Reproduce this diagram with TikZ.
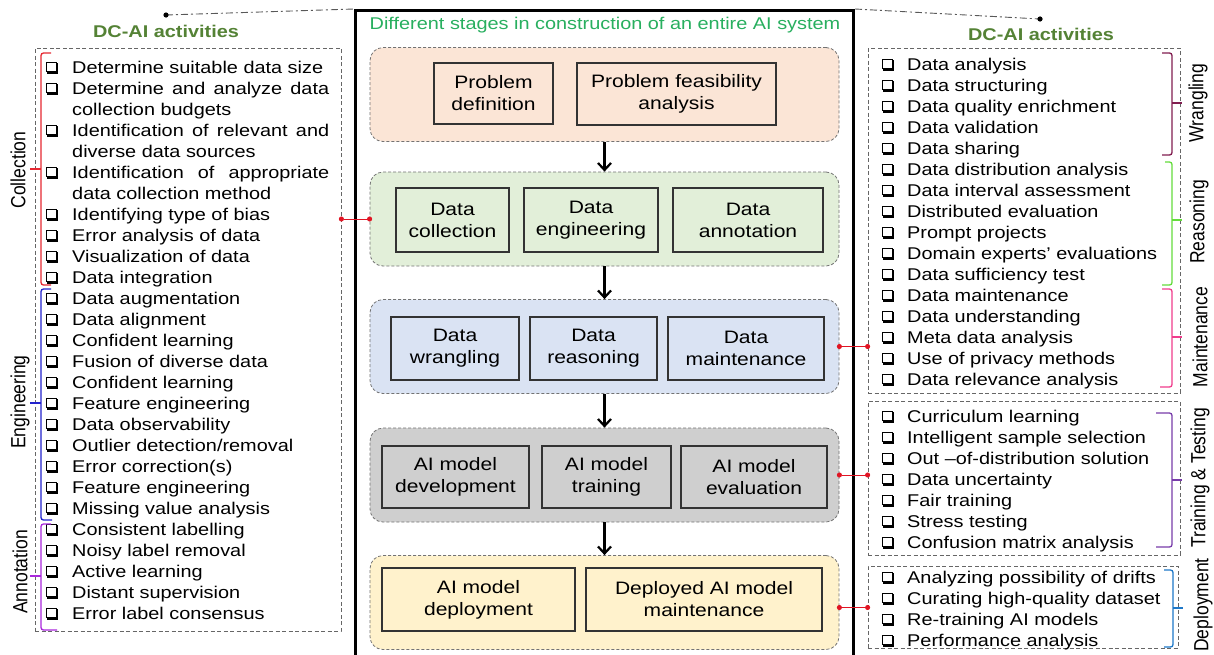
\documentclass[tikz,border=0pt]{standalone}
\usepackage{fontspec}
\setmainfont{Liberation Sans}[FakeStretch=1.17]
\newfontfamily\rotfont{Liberation Sans}[FakeStretch=0.855]
\usetikzlibrary{arrows.meta,calc}

\definecolor{peach}{RGB}{251,229,214}
\definecolor{lgreen}{RGB}{226,239,217}
\definecolor{lblue}{RGB}{218,227,243}
\definecolor{lgray}{RGB}{207,207,207}
\definecolor{lyellow}{RGB}{255,242,204}
\definecolor{headgreen}{RGB}{84,130,53}
\definecolor{titlegreen}{RGB}{40,175,95}
\definecolor{linkred}{RGB}{225,20,35}
\definecolor{cCollect}{RGB}{230,40,50}
\definecolor{cEngin}{RGB}{35,35,205}
\definecolor{cAnnot}{RGB}{170,40,220}
\definecolor{cWrang}{RGB}{130,30,80}
\definecolor{cReason}{RGB}{100,220,60}
\definecolor{cMaint}{RGB}{240,60,140}
\definecolor{cTrain}{RGB}{120,60,170}
\definecolor{cDeploy}{RGB}{30,120,200}

\begin{document}
\begin{tikzpicture}[x=1pt,y=-1pt,
  litem/.style={anchor=base west, inner sep=0pt, text=black,
    font=\fontsize{17}{21}\selectfont},
  heading/.style={inner sep=0pt, text=headgreen, font=\bfseries\fontsize{17}{21}\selectfont},
  grp/.style={draw=black!55, densely dashed, line width=0.8pt, rounded corners=13pt,
    minimum width=469pt, minimum height=94pt, inner sep=0pt},
  stagebox/.style={draw=black!80, line width=1.2pt, align=center, inner sep=0pt,
    text=black, font=\fontsize{18}{22}\selectfont},
  listbox/.style={draw=black!60, line width=0.8pt, dash pattern=on 4pt off 2.5pt, inner sep=0pt},
  arr/.style={-{Straight Barb[length=7pt,width=13pt,line width=2.2pt]}, line width=2.2pt},
  con/.style={draw=linkred, line width=0.8pt, {Circle[length=5pt]}-{Circle[length=5pt]},
    shorten <=-2.5pt, shorten >=-2.5pt},
  brk/.style={line width=1.3pt, rounded corners=2.5pt},
  rot/.style={rotate=90, inner sep=0pt, text=black, font=\rotfont\fontsize{20.5}{24}\selectfont},
  dashdot/.style={draw=black!65, line width=0.9pt, dash pattern=on 7pt off 3pt on 2pt off 3pt},
  cbox/.pic={
    \draw[line width=0.9pt] (-6,-5) rectangle (4,4.5);
    \draw[line width=2.2pt] (-5,5.6) -- (5.1,5.6) -- (5.1,-4);
  }
]
\useasboundingbox (0,0) rectangle (1214,654);
\clip (0,0) rectangle (1214,654);
\fill[white] (0,0) rectangle (1214,654);

% ---------- central frame ----------
\node[draw, line width=3pt, minimum width=498pt, minimum height=700pt,
      anchor=north west, inner sep=0pt] (CB) at (354,9) {};
\node[inner sep=0pt, text=titlegreen, font=\fontsize{17}{21}\selectfont] (title) at (605,25)
  {Different stages in construction of an entire AI system};

% ---------- stage groups ----------
\node[grp, fill=peach]   (g1) at (604.5,94.5) {};
\node[grp, fill=lgreen]  (g2) at (604.5,219) {};
\node[grp, fill=lblue]   (g3) at (604.5,346.5) {};
\node[grp, fill=lgray]   (g4) at (604.5,475) {};
\node[grp, fill=lyellow] (g5) at (604.5,602.5) {};

\node[stagebox, fill=peach, minimum width=119pt, minimum height=61pt] (s11) at (493.5,93.5) {Problem\\definition};
\node[stagebox, fill=peach, minimum width=199pt, minimum height=62pt] (s12) at (676.5,94) {Problem feasibility\\analysis};

\node[stagebox, fill=lgreen, minimum width=113pt, minimum height=64pt] (s21) at (452.5,220) {Data\\collection};
\node[stagebox, fill=lgreen, minimum width=134pt, minimum height=64pt] (s22) at (591,220) {Data\\engineering};
\node[stagebox, fill=lgreen, minimum width=150pt, minimum height=64pt] (s23) at (748,220) {Data\\annotation};

\node[stagebox, fill=lblue, minimum width=128pt, minimum height=63pt] (s31) at (455,348.5) {Data\\wrangling};
\node[stagebox, fill=lblue, minimum width=127pt, minimum height=63pt] (s32) at (593.5,348.5) {Data\\reasoning};
\node[stagebox, fill=lblue, minimum width=156pt, minimum height=63pt] (s33) at (746,348.5) {Data\\maintenance};

\node[stagebox, fill=lgray, minimum width=147pt, minimum height=62pt] (s41) at (455.5,477) {AI model\\development};
\node[stagebox, fill=lgray, minimum width=129pt, minimum height=62pt] (s42) at (606.5,477) {AI model\\training};
\node[stagebox, fill=lgray, minimum width=146pt, minimum height=62pt] (s43) at (754,477) {AI model\\evaluation};

\node[stagebox, fill=lyellow, minimum width=193pt, minimum height=63pt] (s51) at (478.5,599.5) {AI model\\deployment};
\node[stagebox, fill=lyellow, minimum width=236pt, minimum height=63pt] (s52) at (704,599.5) {Deployed AI model\\maintenance};

\draw[arr] (g1.south) -- (g2.north);
\draw[arr] (g2.south) -- (g3.north);
\draw[arr] (g3.south) -- (g4.north);
\draw[arr] (g4.south) -- (g5.north);

% ---------- left activity list ----------
\node[heading] (hl) at (166,31) {DC-AI activities};
\node[listbox, minimum width=306pt, minimum height=583pt] (LB) at (188,339.5) {};

\foreach \txt [count=\i from 0] in {
  {Determine suitable data size},
  {\makebox[257pt][s]{Determine and analyze data}},
  {collection budgets},
  {\makebox[257pt][s]{Identification of relevant and}},
  {diverse data sources},
  {\makebox[257pt][s]{Identification of appropriate}},
  {data collection method},
  {Identifying type of bias},
  {Error analysis of data},
  {Visualization of data},
  {Data integration},
  {Data augmentation},
  {Data alignment},
  {Confident learning},
  {Fusion of diverse data},
  {Confident learning},
  {Feature engineering},
  {Data observability},
  {Outlier detection/removal},
  {Error correction(s)},
  {Feature engineering},
  {Missing value analysis},
  {Consistent labelling},
  {Noisy label removal},
  {Active learning},
  {Distant supervision},
  {Error label consensus}}
{
  \node[litem] (L\i) at (72,{67+21*\i+6}) {\txt};
}
\foreach \i in {0,1,3,5,7,8,...,26}
  \pic at (52,{67+21*\i}) {cbox};

% left brackets
\draw[brk, cCollect] (51,53) -- (41,53) -- (41,285) -- (51,285);
\draw[cCollect, line width=1.3pt] (41,169) -- (30,169);
\draw[brk, cEngin] (51,289) -- (41,289) -- (41,520) -- (52,520);
\draw[cEngin, line width=1.3pt] (41,403) -- (30,403);
\draw[brk, cAnnot] (51,524) -- (41,524) -- (41,630) -- (57,630);
\draw[cAnnot, line width=1.3pt] (41,576) -- (30,576);

\node[rot] (lc) at (18,170) {Collection};
\node[rot] (le) at (20,402) {Engineering};
\node[rot] (la) at (20,572) {Annotation};

% ---------- right activity lists ----------
\node[heading] (hr) at (1041,34) {DC-AI activities};
\node[listbox, minimum width=312pt, minimum height=345pt] (RB1) at (1024,220.5) {};
\node[listbox, minimum width=312pt, minimum height=154pt] (RB2) at (1024,478) {};
\node[listbox, minimum width=310pt, minimum height=82pt]  (RB3) at (1023,607) {};

\foreach \txt [count=\i from 0] in {
  {Data analysis}, {Data structuring}, {Data quality enrichment}, {Data validation},
  {Data sharing}, {Data distribution analysis}, {Data interval assessment},
  {Distributed evaluation}, {Prompt projects}, {Domain experts' evaluations},
  {Data sufficiency test}, {Data maintenance}, {Data understanding},
  {Meta data analysis}, {Use of privacy methods}, {Data relevance analysis}}
{
  \pic at (888,{64+21*\i}) {cbox};
  \node[litem] (RA\i) at (907,{64+21*\i+6}) {\txt};
}
\foreach \txt [count=\i from 0] in {
  {Curriculum learning}, {Intelligent sample selection}, {Out –of-distribution solution},
  {Data uncertainty}, {Fair training}, {Stress testing}, {Confusion matrix analysis}}
{
  \pic at (888,{416+21*\i}) {cbox};
  \node[litem] (RT\i) at (907,{416+21*\i+6}) {\txt};
}
\foreach \txt [count=\i from 0] in {
  {Analyzing possibility of drifts}, {Curating high-quality dataset},
  {Re-training AI models}, {Performance analysis}}
{
  \pic at (888,{577+21*\i}) {cbox};
  \node[litem] (RD\i) at (907,{577+21*\i+6}) {\txt};
}

% right brackets
\draw[brk, cWrang] (1162,53) -- (1172,53) -- (1172,155) -- (1162,155);
\draw[cWrang, line width=1.3pt] (1172,103) -- (1182,103);
\draw[brk, cReason] (1165,162) -- (1172,162) -- (1172,285) -- (1162,285);
\draw[cReason, line width=1.3pt] (1172,220) -- (1182,220);
\draw[brk, cMaint] (1162,289) -- (1172,289) -- (1172,387) -- (1160,387);
\draw[cMaint, line width=1.3pt] (1172,337) -- (1182,337);
\draw[brk, cTrain] (1156,413) -- (1172,413) -- (1172,547) -- (1156,547);
\draw[cTrain, line width=1.3pt] (1172,480) -- (1182,480);
\draw[brk, cDeploy] (1164,570) -- (1173,570) -- (1173,647) -- (1164,647);
\draw[cDeploy, line width=1.3pt] (1173,608) -- (1183,608);

\node[rot] (lw) at (1198,103) {Wrangling};
\node[rot] (lr) at (1199,222) {Reasoning};
\node[rot] (lm) at (1200,337) {Maintenance};
\node[rot] (lt) at (1200,478) {Training \& Testing};
\node[rot] (ld) at (1203,605) {Deployment};

% ---------- links between stages and activity lists ----------
\draw[con] (LB.east |- g2.west) -- (g2.west);
\draw[con] (g3.east) -- (RB1.west |- g3.east);
\draw[con] (g4.east) -- (RB2.west |- g4.east);
\coordinate (g5c) at ($(g5.east)+(0,5)$);
\draw[con] (g5c) -- (RB3.west |- g5c);

% ---------- dash-dot leaders to the headings ----------
\coordinate (dl) at (166,15);
\coordinate (dr) at (1040,19);
\draw[dashdot] (dl) -- (CB.north west);
\draw[dashdot] (CB.north east) -- (dr);
\fill (dl) circle (2.6);
\fill (dr) circle (2.6);
\end{tikzpicture}
\end{document}
